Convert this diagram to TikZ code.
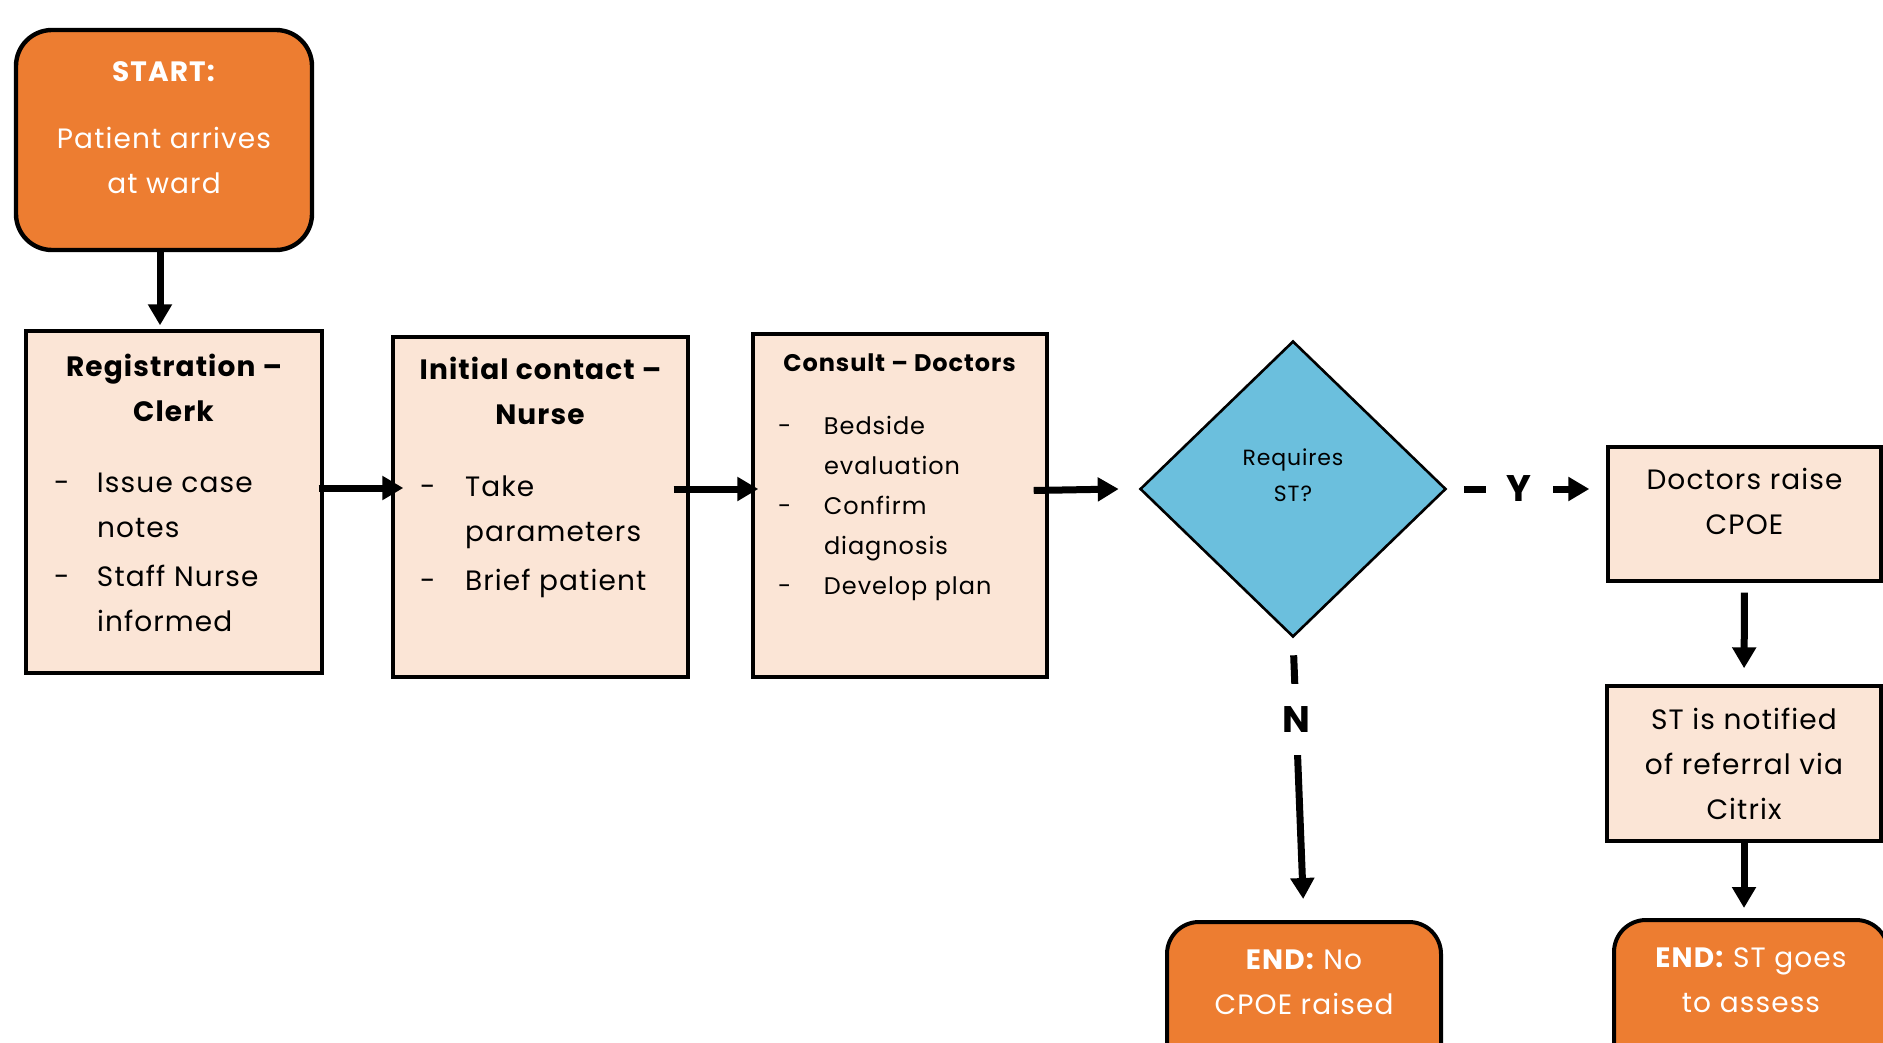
\documentclass[tikz,border=0pt]{standalone}
\usepackage{fontspec}
\setmainfont{Poppins}[LetterSpace=4]
\usetikzlibrary{shapes.geometric,arrows.meta}
\definecolor{termorange}{RGB}{237,125,49}
\definecolor{steppeach}{RGB}{251,229,214}
\definecolor{decblue}{RGB}{107,191,221}

\begin{document}
\begin{tikzpicture}
[every node/.style={inner sep=0pt},
 >={Triangle[width=11.5pt,length=10.5pt]},
 terminal/.style={rectangle, rounded corners=16pt, fill=termorange, line width=2pt, draw=black, text=white, font=\fontsize{14}{22.5}\selectfont},
 stepbox/.style={rectangle, fill=steppeach, line width=1.7pt, draw=black, font=\fontsize{14}{22.5}\selectfont},
 decision/.style={diamond, minimum width=153pt, minimum height=148pt, fill=decblue, line width=1.3pt, draw=black, font=\fontsize{11}{18}\selectfont},
 flow/.style={line width=3.5pt, ->, color=black},
 yesno/.style={fill=white, font=\bfseries\fontsize{18.5}{20}\selectfont}]
\useasboundingbox (0pt, 0pt) rectangle (941.5pt, -521.5pt);
\node (start) [terminal, rounded corners=18pt, line width=2.2pt] at (82pt, -70pt) {\parbox[c][110pt][t]{148pt}{\vspace*{16pt}\centering\textbf{START:}\\[11pt]Patient arrives\\at ward}};
\node (reg) [stepbox] at (87pt, -251pt) {\parbox[c][171pt][t]{148pt}{\vspace*{11.5pt}\centering\textbf{Registration –\\Clerk}\par\vspace{13pt}\raggedright\leftskip=14pt \makebox[21.5pt][l]{-}Issue case\\\hspace*{21.5pt}notes\\[2pt]\makebox[21.5pt][l]{-}Staff Nurse\\\hspace*{21.5pt}informed}};
\node (init) [stepbox] at (270.25pt, -253.5pt) {\parbox[c][170pt][t]{147.5pt}{\vspace*{10.2pt}\centering\textbf{Initial contact –\\Nurse}\par\vspace{13.5pt}\raggedright\leftskip=13.5pt \makebox[22.5pt][l]{-}Take\\\hspace*{22.5pt}parameters\\[2pt]\makebox[22.5pt][l]{-}Brief patient}};
\node (consult) [stepbox, font=\fontsize{12}{20}\selectfont] at (450pt, -252.75pt) {\parbox[c][171.5pt][t]{147pt}{\vspace*{10pt}\centering\textbf{Consult – Doctors}\par\vspace{11.2pt}\raggedright\leftskip=12.5pt \makebox[23pt][l]{-}Bedside\\\hspace*{23pt}evaluation\\\makebox[23pt][l]{-}Confirm\\\hspace*{23pt}diagnosis\\\makebox[23pt][l]{-}Develop plan}};
\node (dec) [decision] at (646.5pt, -244.5pt) {\parbox[c][40pt][t]{70pt}{\centering Requires\\ST?}};
\node (doc) [stepbox] at (872.25pt, -257pt) {\parbox[c][67pt][t]{136.5pt}{\vspace*{10.5pt}\centering Doctors raise\\CPOE}};
\node (st) [stepbox] at (872pt, -381.75pt) {\parbox[c][77.5pt][t]{137pt}{\vspace*{11pt}\centering ST is notified\\of referral via\\Citrix}};
\node (endno) [terminal] at (652pt, -516pt) {\parbox[c][110pt][t]{137pt}{\vspace*{13.8pt}\centering\textbf{END:} No\\CPOE raised}};
\node (endst) [terminal] at (875.5pt, -515pt) {\parbox[c][110pt][t]{137pt}{\vspace*{14pt}\centering\textbf{END:} ST goes\\to assess}};
\draw [flow, shorten >=2pt] ([xshift=-2pt]start.south) to ([xshift=-7pt]reg.north);
\draw [flow] ([xshift=-2.5pt, yshift=7pt]reg.east) to ([xshift=6pt, yshift=9.5pt]init.west);
\draw [flow] ([xshift=-8pt, yshift=9pt]init.east) to ([xshift=3.5pt, yshift=8.25pt]consult.west);
\draw [flow] ([xshift=-7.5pt, yshift=7.5pt]consult.east) to ([xshift=-10pt]dec.west);
\draw [flow] ([xshift=8.5pt]dec.east) to node [yesno, pos=0.44, minimum width=33.5pt] {Y} ([xshift=-8.5pt, yshift=12.5pt]doc.west);
\draw [flow, shorten <=8.5pt, shorten >=10.5pt] (dec.south) to node [yesno, pos=0.29, minimum height=35.5pt] {N} (endno.north);
\draw [flow, shorten <=5pt, shorten >=8pt] (doc.south) to (st.north);
\draw [flow, shorten <=-1.5pt, shorten >=5pt] (st.south) to (st.south |- endst.north);
\end{tikzpicture}
\end{document}
